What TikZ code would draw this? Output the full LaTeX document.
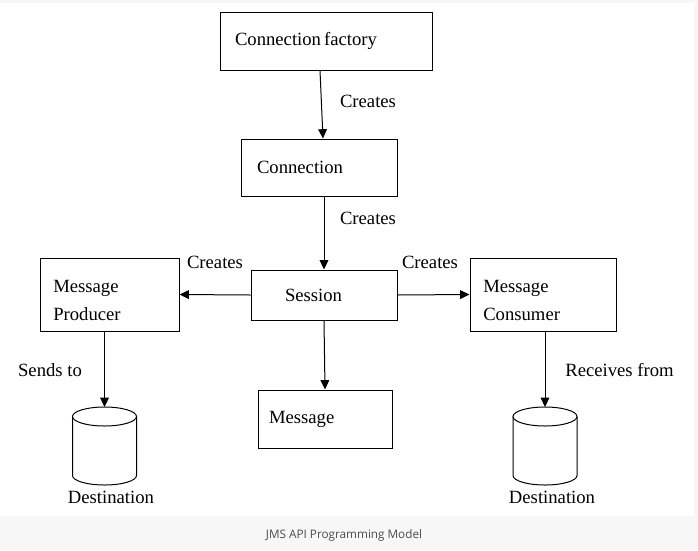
\documentclass[tikz,border=0pt]{standalone}
\usepackage{fontspec}
\setmainfont{Liberation Serif}
\newfontfamily\capfont{Open Sans}
\usepackage{xcolor}
\usetikzlibrary{arrows.meta, positioning, shapes.geometric}

\begin{document}
\begin{tikzpicture}[
    x=0.75pt, y=-0.75pt,
    font=\fontsize{14}{17}\selectfont,
    box/.style={draw, rectangle, line width=0.75pt, inner ysep=0pt, align=left},
    arr/.style={-{Triangle[length=7pt, width=6.5pt]}, line width=0.75pt},
    lbl/.style={inner sep=0pt}
]
\useasboundingbox (0,0) rectangle (698,550);
\fill[black!3] (0,0) rectangle (698,550);
\fill[white] (0,3) rectangle (694,516);

\node[box, minimum width=159pt, minimum height=43.5pt, inner xsep=11.25pt, text width=136.5pt] (factory) at (326,41) {Connection\,factory};
\node[box, minimum width=117pt, minimum height=42.75pt, inner xsep=12pt, text width=93pt] (conn) at (319,167.5) {Connection};
\node[box, minimum width=109.5pt, minimum height=37.5pt, inner xsep=25.5pt, text width=58.5pt] (session) at (324,295) {Session};
\node[box, minimum width=104.25pt, minimum height=54.75pt] (producer) at (109.5,294.5) {};
\node[box, minimum width=109.5pt, minimum height=54.75pt] (consumer) at (543,294.5) {};
\node[box, minimum width=100.5pt, minimum height=43.5pt, inner xsep=8.25pt, text width=84pt] (message) at (325,419) {Message};

% box texts
\node[lbl, anchor=west, align=left] (producertext) at (53,300) {Message\\[4pt]Producer};
\node[lbl, anchor=west, align=left] (consumertext) at (483,300) {Message\\[4pt]Consumer};

% destinations (cylinders)
\foreach \cx/\nm in {104.5/dest1, 545/dest2} {
  \draw[line width=0.75pt] (\cx-32,416.5) -- (\cx-32,475.5)
      arc[start angle=180, end angle=360, x radius=24pt, y radius=7.125pt] -- (\cx+32,416.5);
  \draw[line width=0.75pt] (\cx,416.5) ellipse[x radius=24pt, y radius=7.125pt];
  \coordinate (\nm) at (\cx,407);
}

\node[lbl] (creates1) at (368,101) {Creates};
\node[lbl] (creates2) at (368,218) {Creates};
\node[lbl] (creates3) at (215,262) {Creates};
\node[lbl] (creates4) at (430,262) {Creates};
\node[lbl] (sends) at (50,370) {Sends to};
\node[lbl] (receives) at (619.5,370) {Receives from};
\node[lbl] (destname1) at (111,497) {Destination};
\node[lbl] (destname2) at (552,497) {Destination};
\node[lbl, font=\capfont\fontsize{8.8}{10}\selectfont, text=black!70] (caption) at (344,535) {JMS API Programming Model};

\draw[arr] ([xshift=-4.5pt]factory.south) -- ([xshift=3pt]conn.north);
\draw[arr] (session.north |- conn.south) -- (session.north);
\draw[arr] (session.west) -- (producer.east);
\draw[arr] (session.east) -- (consumer.west);
\draw[arr] (session.south) -- (message.north);
\draw[arr] (dest1 |- producer.south) -- (dest1);
\draw[arr] (dest2 |- consumer.south) -- (dest2);
\end{tikzpicture}
\end{document}
